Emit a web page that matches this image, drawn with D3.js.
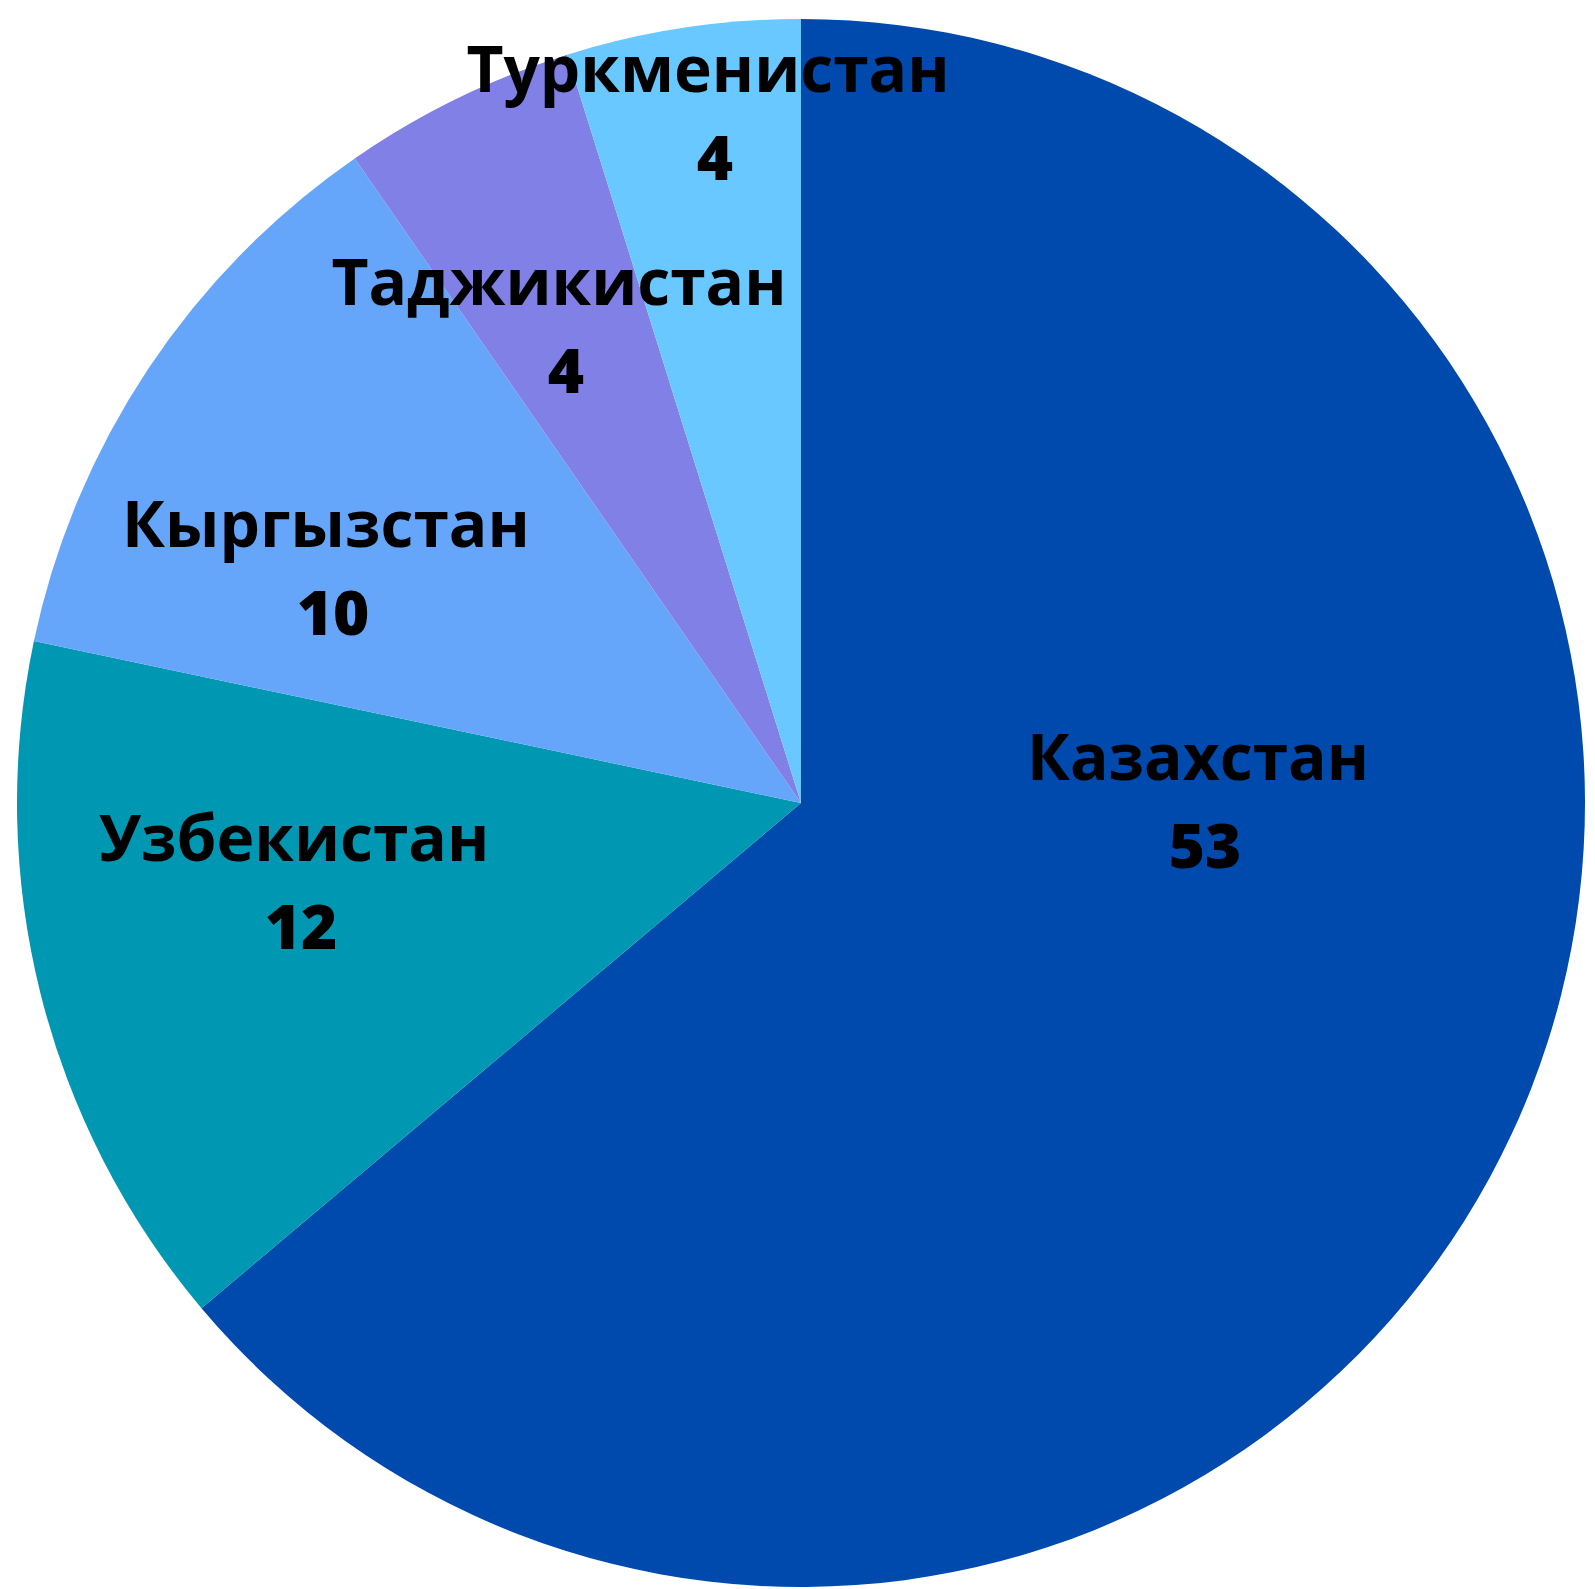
<!DOCTYPE html>
<html>
<head>
<meta charset="utf-8">
<script src="https://cdn.jsdelivr.net/npm/d3@7"></script>
<style>
  html, body { margin: 0; padding: 0; background: #fff; }
  svg { display: block; }
  .label { font-family: "Open Sans", sans-serif; font-weight: 700; fill: #000; }
</style>
</head>
<body>
<div id="chart"></div>
<script>
// Data
const countries = ["Казахстан", "Узбекистан", "Кыргызстан", "Таджикистан", "Туркменистан"];
const values = [53, 12, 10, 4, 4];
const colors = ["#004aad", "#0097b2", "#66a6fa", "#8080e6", "#68c8ff"];

// Layout: label anchor offsets from the pie centre (label text centre x, baseline y)
const labelOffsets = [[397, -23], [-507, 58], [-475, -256], [-242, -498], [-93, -711]];

const width = 1595, height = 1589;
const cx = 801, cy = 803, radius = 784;

const svg = d3.select("#chart")
    .append("svg")
    .attr("width", width)
    .attr("height", height);

const g = svg.append("g")
    .attr("transform", `translate(${cx},${cy})`);

const pie = d3.pie()
    .sort(null)
    .value(d => d.value);

const arc = d3.arc()
    .innerRadius(0)
    .outerRadius(radius);

const data = countries.map((c, i) => ({ name: c, value: values[i], color: colors[i], offset: labelOffsets[i] }));

// Slices
g.selectAll("path")
    .data(pie(data))
    .enter()
    .append("path")
    .attr("d", arc)
    .attr("fill", d => d.data.color);

// Labels: country name and value underneath
const labels = g.selectAll("g.lbl")
    .data(data)
    .enter()
    .append("g")
    .attr("class", "lbl")
    .attr("transform", d => `translate(${d.offset[0]},${d.offset[1]})`);

labels.append("text")
    .attr("class", "label")
    .attr("text-anchor", "middle")
    .style("font-size", "64px")
    .text(d => d.name);

labels.append("text")
    .attr("class", "label")
    .attr("text-anchor", "middle")
    .attr("x", 7)
    .attr("y", 88)
    .style("font-size", "62px")
    .style("font-weight", 800)
    .text(d => d.value);
</script>
</body>
</html>
